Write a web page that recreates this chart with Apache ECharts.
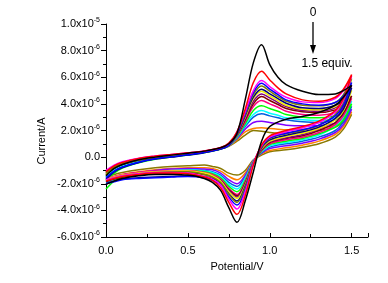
<!DOCTYPE html>
<html>
<head>
<meta charset="utf-8">
<script src="https://cdn.jsdelivr.net/npm/echarts@6/dist/echarts.min.js"></script>
<style>
  html, body {margin: 0; padding: 0; background: #fff;}
  #chart {width: 388px; height: 283px;}
</style>
</head>
<body>
<div id="chart"></div>
<script>
// potential (V): forward scan 0 -> 1.5, then back to 0
const potential = [0, 0.05, 0.1, 0.2, 0.3, 0.4, 0.5, 0.6, 0.7, 0.75, 0.8, 0.85, 0.9, 0.95, 1.0, 1.05, 1.1, 1.2, 1.3, 1.4, 1.45, 1.5,
  1.45, 1.4, 1.3, 1.2, 1.1, 1.0, 0.95, 0.9, 0.85, 0.8, 0.75, 0.7, 0.65, 0.6, 0.5, 0.4, 0.3, 0.2, 0.1, 0.05, 0];

// current in units of 1e-6 A, one array per titration step (0 -> 1.5 equiv.)
const curve0 = [-1.4, -0.85, -0.55, -0.2, 0.0, 0.15, 0.3, 0.45, 0.7, 1.0, 1.8, 4.3, 7.1, 8.45, 6.95, 6.0, 5.45, 4.95, 4.7, 4.75, 5.0, 5.4,
  4.5, 3.9, 3.35, 3.05, 2.85, 2.3, 1.2, -1.1, -3.3, -4.9, -3.8, -2.5, -1.9, -1.6, -1.35, -1.3, -1.3, -1.4, -1.6, -1.8, -2.05];
const curve1 = [-1.1, -0.65, -0.4, -0.1, 0.07, 0.2, 0.32, 0.47, 0.72, 1.05, 1.9, 3.6, 5.6, 6.45, 5.8, 5.2, 4.75, 4.3, 4.2, 4.5, 5.1, 6.2,
  4.4, 3.5, 2.7, 2.3, 2.0, 1.6, 0.9, -0.6, -2.9, -4.3, -3.4, -2.3, -1.75, -1.5, -1.25, -1.2, -1.2, -1.3, -1.45, -1.6, -1.8];
const curve2 = [-1.0, -0.6, -0.35, -0.08, 0.08, 0.2, 0.32, 0.46, 0.7, 1.0, 1.9, 3.4, 5.0, 5.75, 5.3, 4.85, 4.5, 4.15, 4.1, 4.4, 5.0, 6.1,
  4.3, 3.4, 2.6, 2.2, 1.9, 1.5, 0.85, -0.5, -2.6, -3.9, -3.15, -2.1, -1.65, -1.45, -1.2, -1.15, -1.15, -1.25, -1.4, -1.55, -1.7];
const curve3 = [-1.55, -1.05, -0.75, -0.38, -0.12, 0.03, 0.18, 0.36, 0.62, 0.92, 1.8, 3.3, 4.85, 5.55, 5.1, 4.7, 4.3, 4.0, 3.9, 4.1, 4.6, 5.6,
  3.9, 3.1, 2.4, 2.05, 1.8, 1.45, 0.8, -0.5, -2.5, -3.6, -3.0, -2.1, -1.75, -1.55, -1.45, -1.5, -1.55, -1.6, -1.7, -1.85, -2.0];
const curve4 = [-1.2, -0.75, -0.5, -0.18, 0.02, 0.16, 0.28, 0.43, 0.68, 0.98, 1.8, 3.2, 4.7, 5.35, 4.95, 4.55, 4.2, 3.9, 3.85, 4.1, 4.7, 5.9,
  4.1, 3.2, 2.4, 2.0, 1.75, 1.4, 0.75, -0.45, -2.3, -3.4, -2.8, -1.9, -1.5, -1.3, -1.1, -1.1, -1.15, -1.25, -1.4, -1.55, -1.75];
const curve5 = [-1.65, -1.1, -0.78, -0.4, -0.15, 0.0, 0.15, 0.33, 0.6, 0.9, 1.7, 3.1, 4.5, 5.1, 4.75, 4.4, 4.05, 3.7, 3.65, 3.9, 4.3, 5.2,
  3.6, 2.9, 2.25, 1.9, 1.65, 1.3, 0.7, -0.45, -2.2, -3.3, -2.75, -1.95, -1.6, -1.45, -1.4, -1.45, -1.5, -1.55, -1.65, -1.8, -2.0];
const curve6 = [-1.3, -0.8, -0.5, -0.2, 0.0, 0.13, 0.26, 0.41, 0.66, 0.95, 1.7, 3.0, 4.4, 4.95, 4.6, 4.25, 3.9, 3.6, 3.55, 3.8, 4.3, 5.0,
  3.5, 2.8, 2.15, 1.8, 1.55, 1.2, 0.65, -0.4, -2.1, -3.1, -2.6, -1.8, -1.4, -1.2, -1.05, -1.05, -1.1, -1.2, -1.35, -1.5, -1.7];
const curve7 = [-1.15, -0.7, -0.45, -0.15, 0.03, 0.16, 0.28, 0.43, 0.67, 0.95, 1.7, 2.9, 4.2, 4.75, 4.45, 4.1, 3.8, 3.5, 3.45, 3.7, 4.3, 5.4,
  3.8, 2.9, 2.1, 1.7, 1.45, 1.15, 0.6, -0.4, -2.0, -3.0, -2.5, -1.75, -1.4, -1.25, -1.1, -1.1, -1.15, -1.25, -1.4, -1.55, -1.7];
const curve8 = [-1.35, -0.85, -0.55, -0.23, -0.02, 0.12, 0.25, 0.4, 0.64, 0.92, 1.65, 2.8, 4.0, 4.55, 4.25, 3.95, 3.65, 3.4, 3.35, 3.55, 3.95, 4.6,
  3.3, 2.6, 2.0, 1.6, 1.4, 1.1, 0.55, -0.4, -1.95, -2.9, -2.45, -1.75, -1.45, -1.3, -1.2, -1.2, -1.25, -1.35, -1.5, -1.65, -1.85];
const curve9 = [-1.1, -0.65, -0.42, -0.13, 0.04, 0.16, 0.28, 0.43, 0.66, 0.92, 1.6, 2.65, 3.8, 4.25, 4.0, 3.75, 3.45, 3.2, 3.15, 3.35, 3.8, 4.4,
  3.1, 2.45, 1.85, 1.5, 1.3, 1.0, 0.5, -0.35, -1.85, -2.8, -2.35, -1.65, -1.3, -1.15, -1.0, -1.0, -1.05, -1.15, -1.3, -1.45, -1.6];
const curve10 = [-1.75, -1.2, -0.82, -0.42, -0.16, 0.01, 0.16, 0.34, 0.6, 0.88, 1.55, 2.5, 3.5, 3.85, 3.65, 3.45, 3.2, 3.0, 2.95, 3.1, 3.4, 4.0,
  2.8, 2.25, 1.75, 1.4, 1.2, 0.95, 0.45, -0.35, -1.75, -2.6, -2.2, -1.55, -1.25, -1.1, -1.0, -1.05, -1.15, -1.3, -1.5, -1.8, -2.4];
const curve11 = [-1.45, -0.92, -0.62, -0.27, -0.06, 0.09, 0.22, 0.38, 0.62, 0.88, 1.5, 2.4, 3.2, 3.5, 3.3, 3.15, 2.95, 2.8, 2.75, 2.95, 3.4, 4.2,
  3.0, 2.3, 1.65, 1.3, 1.1, 0.85, 0.4, -0.3, -1.6, -2.4, -2.05, -1.45, -1.15, -1.05, -0.95, -1.0, -1.1, -1.25, -1.45, -1.65, -1.9];
const curve12 = [-1.5, -1.0, -0.7, -0.3, -0.08, 0.07, 0.2, 0.36, 0.6, 0.86, 1.45, 2.3, 3.0, 3.25, 3.1, 2.95, 2.8, 2.65, 2.6, 2.8, 3.15, 3.8,
  2.65, 2.0, 1.5, 1.2, 1.0, 0.75, 0.35, -0.3, -1.5, -2.2, -1.9, -1.35, -1.1, -1.0, -0.95, -1.0, -1.1, -1.25, -1.45, -1.65, -1.9];
const curve13 = [-1.25, -0.8, -0.5, -0.2, 0.0, 0.13, 0.25, 0.4, 0.62, 0.86, 1.4, 2.1, 2.6, 2.7, 2.6, 2.5, 2.4, 2.35, 2.35, 2.55, 2.95, 3.6,
  2.45, 1.85, 1.35, 1.05, 0.85, 0.65, 0.3, -0.25, -1.35, -2.0, -1.7, -1.2, -0.95, -0.9, -0.85, -0.9, -1.0, -1.15, -1.35, -1.5, -1.75];
const curve14 = [-1.3, -0.85, -0.55, -0.22, -0.02, 0.12, 0.24, 0.38, 0.6, 0.84, 1.3, 1.9, 2.15, 2.2, 2.15, 2.1, 2.05, 2.1, 2.2, 2.4, 2.8, 3.4,
  2.3, 1.7, 1.2, 0.9, 0.7, 0.5, 0.25, -0.25, -1.2, -1.7, -1.45, -1.05, -0.85, -0.8, -0.8, -0.85, -0.95, -1.1, -1.3, -1.45, -1.7];
const curve15 = [-1.2, -0.75, -0.5, -0.18, 0.0, 0.14, 0.26, 0.4, 0.62, 0.82, 1.2, 1.65, 2.0, 1.95, 1.85, 1.8, 1.82, 1.9, 2.0, 2.25, 2.65, 3.2,
  2.1, 1.5, 1.0, 0.75, 0.55, 0.4, 0.15, -0.2, -1.0, -1.35, -1.2, -0.85, -0.7, -0.6, -0.65, -0.7, -0.8, -0.95, -1.15, -1.3, -1.5];

const curves = [curve0, curve1, curve2, curve3, curve4, curve5, curve6, curve7,
  curve8, curve9, curve10, curve11, curve12, curve13, curve14, curve15];
const curveColors = ['#000000', '#ff0000', '#ff00ff', '#0000ff', '#808000', '#000080', '#f0f000', '#800080',
  '#800000', '#ff0080', '#00ff00', '#00ffff', '#0060e0', '#8000ff', '#ff8000', '#8a7a00'];

// tick labels
const yTicks = [-6, -4, -2, 0, 2, 4, 6, 8, 10];
const yTickText = ['-6.0x10{sup|-6}', '-4.0x10{sup|-6}', '-2.0x10{sup|-6}', '0.0', '2.0x10{sup|-6}',
  '4.0x10{sup|-6}', '6.0x10{sup|-6}', '8.0x10{sup|-6}', '1.0x10{sup|-5}'];
const xTickText = {'0': '0.0', '0.5': '0.5', '1': '1.0', '1.5': '1.5'};

const font = 'Liberation Sans, Arial, sans-serif';
const chart = echarts.init(document.getElementById('chart'));

let series = [];
for (let i = curves.length - 1; i >= 0; i--) {
  series.push({
    type: 'line',
    data: potential.map((v, j) => [v, curves[i][j]]),
    smooth: 0.35,
    showSymbol: false,
    lineStyle: {color: curveColors[i], width: 1.5},
    emphasis: {disabled: true}
  });
}

const option = {
  animation: false,
  backgroundColor: '#fff',
  grid: {left: 106, right: 20, top: 24, bottom: 46, containLabel: false},
  xAxis: {
    type: 'value',
    min: 0,
    max: 1.6,
    interval: 0.5,
    name: 'Potential/V',
    nameLocation: 'middle',
    nameGap: 24,
    nameTextStyle: {color: '#000', fontSize: 11, fontFamily: font},
    splitLine: {show: false},
    axisLine: {onZero: false, lineStyle: {color: '#000', width: 1}},
    axisTick: {inside: true, length: 4, lineStyle: {color: '#000'}},
    minorTick: {show: true, splitNumber: 2, length: 3, lineStyle: {color: '#000'}},
    axisLabel: {
      color: '#000', fontSize: 11, fontFamily: font, margin: 8, showMaxLabel: false,
      formatter: v => xTickText[String(v)] || ''
    }
  },
  yAxis: {
    type: 'value',
    min: -6,
    max: 10,
    interval: 2,
    splitLine: {show: false},
    axisLine: {onZero: false, lineStyle: {color: '#000', width: 1}},
    axisTick: {length: 5, lineStyle: {color: '#000'}},
    minorTick: {show: true, splitNumber: 2, length: 3, lineStyle: {color: '#000'}},
    axisLabel: {
      color: '#000', fontSize: 11, fontFamily: font, margin: 6,
      formatter: v => yTickText[yTicks.indexOf(v)] || '',
      rich: {
        sup: {fontSize: 7, fontFamily: font, color: '#000', padding: [0, 0, 7, 0]}
      }
    }
  },
  graphic: [
    {type: 'text', x: 42, y: 141, rotation: Math.PI / 2,
      style: {text: 'Current/A', fill: '#000', font: '11px ' + font, align: 'center', verticalAlign: 'middle'}},
    {type: 'text', x: 313, y: 13,
      style: {text: '0', fill: '#000', font: '12px ' + font, align: 'center', verticalAlign: 'middle'}},
    {type: 'line', shape: {x1: 313, y1: 22, x2: 313, y2: 46}, style: {stroke: '#000', lineWidth: 1.3}},
    {type: 'polygon', shape: {points: [[310, 45], [316, 45], [313, 54]]}, style: {fill: '#000'}},
    {type: 'text', x: 327, y: 64,
      style: {text: '1.5 equiv.', fill: '#000', font: '12px ' + font, align: 'center', verticalAlign: 'middle'}}
  ],
  series: series
};
chart.setOption(option);
</script>
</body>
</html>
